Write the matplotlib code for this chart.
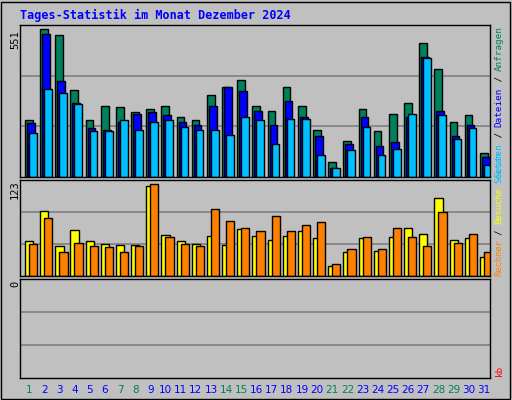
import matplotlib
matplotlib.use("Agg")
import matplotlib.pyplot as plt
from matplotlib.patches import Rectangle

days = list(range(1, 32))
weekend = [1, 7, 8, 14, 15, 21, 22, 28, 29]
anfragen = [208,536,514,314,208,256,252,234,245,256,219,205,296,328,350,259,238,325,256,172,56,132,248,168,230,270,485,390,198,223,88]
dateien  = [194,517,347,270,179,172,198,227,234,223,201,187,259,325,310,241,187,274,216,147,34,118,219,114,128,216,434,241,147,187,74]
seiten   = [161,318,303,263,168,168,208,172,201,208,183,172,172,154,216,205,121,212,212,78,34,99,183,81,103,227,430,223,139,179,45]
besuche  = [45,83,38,59,45,41,40,40,115,53,45,41,51,40,60,51,46,51,58,49,13,31,49,32,50,61,54,100,46,49,24]
rechner  = [41,74,31,42,38,37,31,38,118,50,41,38,86,70,61,58,77,58,65,69,15,35,50,35,61,50,38,82,42,54,31]
kb = [0]*31

W, H = 512, 400
BG = '#C0C0C0'
fig = plt.figure(figsize=(W/100, H/100), dpi=100, facecolor=BG)
fig.patches.append(Rectangle((1/W, 1/H), 1-3/W, 1-3/H, transform=fig.transFigure, fill=False, edgecolor='black', lw=1))

def ax_px(x0, y0, x1, y1):
    a = fig.add_axes([x0/W, 1-y1/H, (x1-x0)/W, (y1-y0)/H])
    a.set_facecolor(BG)
    a.set_xlim(0, 31)
    a.set_xticks([]); a.set_yticks([])
    for s in a.spines.values():
        s.set_color('black'); s.set_linewidth(1)
    return a

slot = 470/31
def draw(a, series, colors, offs, width, ymax):
    a.set_ylim(0, ymax)
    for k in (1, 2):
        a.axhline(ymax*k/3, color='#808080', lw=1.2, zorder=0)
    for vals, c, o in zip(series, colors, offs):
        xs = [i + o/slot for i in range(31)]
        a.bar(xs, vals, width=width/slot, align='edge', color=c, edgecolor='black', lw=1, zorder=2)

a1 = ax_px(20, 25, 490, 177)
draw(a1, [anfragen, dateien, seiten], ['#00805C', '#0000FF', '#00BFFF'], [5, 7, 9], 7.7, 551)
a2 = ax_px(20, 180, 490, 276)
draw(a2, [besuche, rechner], ['#FFFF00', '#FF8000'], [5, 9], 8.2, 123)
a3 = ax_px(20, 279, 490, 378)
a3.set_ylim(0, 1)
for k in (1, 2):
    a3.axhline(k/3, color='#808080', lw=1.2, zorder=0)

fig.text(20/W, 1-15/H, 'Tages-Statistik im Monat Dezember 2024', color='#0000FF',
         fontsize=8.5, fontweight='bold', family='DejaVu Sans Mono', va='center', ha='left')
for y, t in [(40, '551'), (190, '123'), (284, '0')]:
    fig.text(15/W, 1-y/H, t, rotation=90, fontsize=7.5, family='DejaVu Sans Mono', ha='center', va='center')

# vertical text reads bottom-to-top; place segments from bottom up
def right_label_bu(parts, ybottom, step=5.6, fs=6.7):
    y = ybottom
    for txt, col in parts:
        n = len(txt)
        yc = y - n*step/2
        fig.text(499/W, 1-yc/H, txt, rotation=90, color=col, fontsize=fs,
                 family='DejaVu Sans Mono', ha='center', va='center')
        y -= n*step
right_label_bu([('Seiten', '#00BFFF'), (' / ', 'black'), ('Dateien', '#0000FF'), (' / ', 'black'), ('Anfragen', '#00805C')], 177)
right_label_bu([('Rechner', '#FF8000'), (' / ', 'black'), ('Besuche', '#FFFF00'), (' ', 'black'), ('Seiten', '#00BFFF')], 276, step=5.2, fs=6.3)
fig.text(499/W, 1-370/H, 'kb', rotation=90, color='#FF0000', fontsize=6.7, family='DejaVu Sans Mono', ha='center', va='center')

for i, d in enumerate(days):
    x = 20 + (i + 0.6) * slot
    fig.text(x/W, 1-390/H, str(d), color='#00805C' if d in weekend else '#0000FF',
             fontsize=7.5, ha='center', va='center')

fig.savefig('out.png', dpi=100, facecolor=BG)
